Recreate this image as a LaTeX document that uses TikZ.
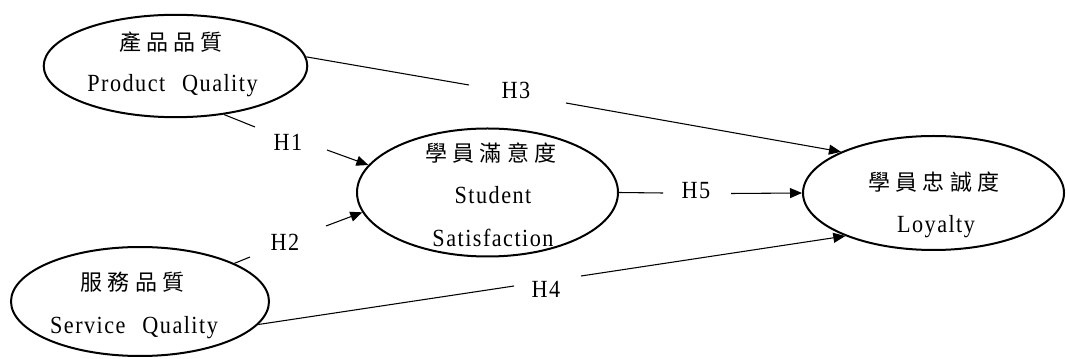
\documentclass[tikz,border=0pt]{standalone}
\usepackage{fontspec}
\setmainfont{Liberation Serif}[FakeStretch=0.9,LetterSpace=6,WordSpace=2.4]
\newfontfamily\cjk{Noto Sans CJK TC}[LetterSpace=24]
\usetikzlibrary{shapes.geometric,arrows.meta}
\begin{document}
\begin{tikzpicture}[x=0.75pt,y=-0.75pt,
  latent/.style={ellipse,draw,line width=1.5pt,inner sep=0pt},
  cn/.style={font=\cjk\fontsize{16.5}{20}\selectfont,inner sep=0pt},
  en/.style={font=\fontsize{18.5}{22}\selectfont,inner sep=0pt,anchor=base},
  link/.style={line width=0.8pt},
  arr/.style={line width=0.8pt,-{Triangle[length=9pt,width=7.5pt]}}]
\useasboundingbox (0,0) rectangle (1066,359);
% latent variables
\node[latent,minimum width=197.7pt,minimum height=76.8pt] (e1) at (175.5,66) {};
\node[latent,minimum width=193.5pt,minimum height=81.75pt] (e2) at (140,301.5) {};
\node[latent,minimum width=195.75pt,minimum height=96pt] (e3) at (487.5,192.5) {};
\node[latent,minimum width=195.75pt,minimum height=85.5pt] (e4) at (933.5,193) {};
% texts
\node[cn] (t1c) at (171,42) {產品品質};
\node[en] (t1e) at (172.5,92) {Product Quality};
\node[cn] (t2c) at (132.5,282.5) {服務品質};
\node[en] (t2e) at (134,333) {Service Quality};
\node[cn] (t3c) at (491,153) {學員滿意度};
\node[en] (t3e) at (493,204) {Student};
\node[en] (t3f) at (493,246.5) {Satisfaction};
\node[cn] (t4c) at (934,182) {學員忠誠度};
\node[en] (t4e) at (936,232.5) {Loyalty};
% hypothesis labels
\node[en] (h1) at (288,150.5) {H1};
\node[en] (h2) at (285,251) {H2};
\node[en] (h3) at (516,98.3) {H3};
\node[en] (h4) at (546,298) {H4};
\node[en] (h5) at (696,199) {H5};
% gap coordinates
\coordinate (h1a) at (255,127);
\coordinate (h1b) at (327,150);
\coordinate (h2a) at (250,257);
\coordinate (h2b) at (326,226);
\coordinate (h3a) at (469,85);
\coordinate (h3b) at (566,103);
\coordinate (h4a) at (514,286);
\coordinate (h4b) at (581,276);
\coordinate (h5a) at (663,193);
\coordinate (h5b) at (731,193.5);
% connectors
\draw[link] (e1.-45) -- (h1a);
\draw[arr] (h1b) -- (e3.167);
\draw[link] (e2.22) -- (h2a);
\draw[arr] (h2b) -- (e3.-171);
\draw[link] (e1.4) -- (h3a);
\draw[arr] (h3b) -- (e4.156);
\draw[link] (e2.-11) -- (h4a);
\draw[arr] (h4b) -- (e4.-154);
\draw[link] (e3.0) -- (h5a);
\draw[arr] (h5b) -- (e4.180);
\end{tikzpicture}
\end{document}
